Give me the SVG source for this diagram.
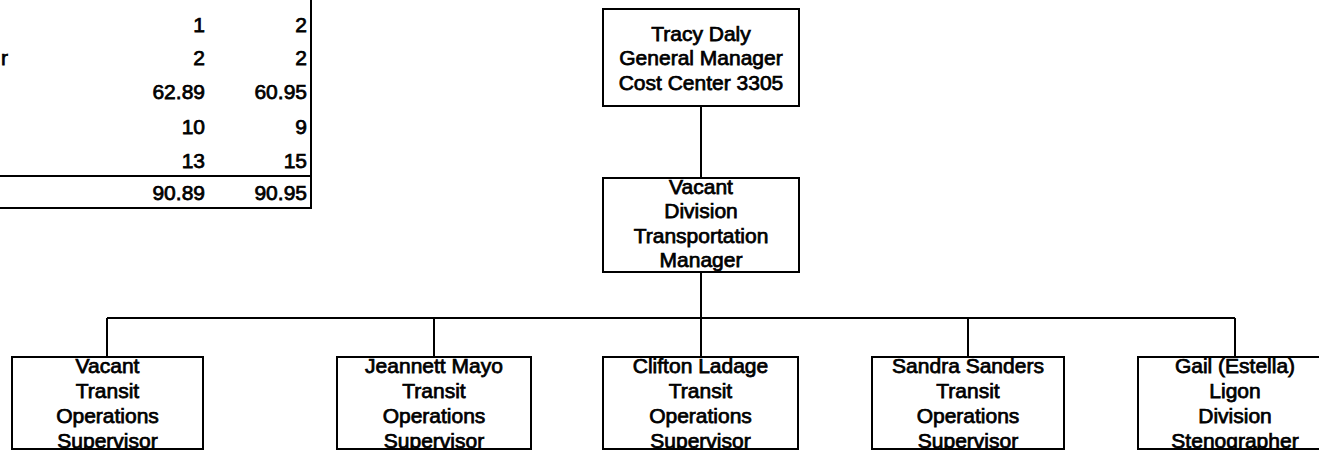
<svg xmlns="http://www.w3.org/2000/svg" width="1319" height="452" viewBox="0 0 1319 452">
<style>
text{font-family:"Liberation Sans",Arial,sans-serif;font-size:21px;fill:#000;stroke:#000;stroke-width:0.75}
.c{text-anchor:middle}
.r{text-anchor:end}
.box{fill:#fff;stroke:#000;stroke-width:2}
.ln{fill:none;stroke:#000;stroke-width:2}
</style>
<defs>
<clipPath id="cTop"><rect x="603" y="9" width="196" height="97"/></clipPath>
<clipPath id="cMgr"><rect x="603" y="178" width="196" height="94"/></clipPath>
<clipPath id="c1"><rect x="12" y="357" width="191" height="92"/></clipPath>
<clipPath id="c2"><rect x="337" y="357" width="194" height="92"/></clipPath>
<clipPath id="c3"><rect x="603" y="357" width="195" height="92"/></clipPath>
<clipPath id="c4"><rect x="872" y="357" width="192" height="92"/></clipPath>
<clipPath id="c5"><rect x="1138" y="357" width="193" height="92"/></clipPath>
</defs>
<g id="table">
<line class="ln" x1="311" y1="0" x2="311" y2="209"/>
<line class="ln" x1="0" y1="176" x2="311" y2="176"/>
<line class="ln" x1="0" y1="208" x2="311" y2="208"/>
<text class="r" x="8" y="65">r</text>
<text class="r" x="205" y="32">1</text><text class="r" x="307" y="32">2</text>
<text class="r" x="205" y="65">2</text><text class="r" x="307" y="65">2</text>
<text class="r" x="205" y="99">62.89</text><text class="r" x="307" y="99">60.95</text>
<text class="r" x="205" y="134">10</text><text class="r" x="307" y="134">9</text>
<text class="r" x="205" y="168">13</text><text class="r" x="307" y="168">15</text>
<text class="r" x="205" y="200">90.89</text><text class="r" x="307" y="200">90.95</text>
</g>
<g id="connectors">
<line class="ln" x1="701" y1="106" x2="701" y2="178"/>
<line class="ln" x1="701" y1="272" x2="701" y2="357"/>
<line class="ln" x1="107" y1="318" x2="1235" y2="318"/>
<line class="ln" x1="107" y1="318" x2="107" y2="357"/>
<line class="ln" x1="434" y1="318" x2="434" y2="357"/>
<line class="ln" x1="968" y1="318" x2="968" y2="357"/>
<line class="ln" x1="1235" y1="318" x2="1235" y2="357"/>
</g>
<g id="gm">
<rect class="box" x="603" y="9" width="196" height="97"/>
<g clip-path="url(#cTop)">
<text class="c" x="701" y="40.5">Tracy Daly</text>
<text class="c" x="701" y="65">General Manager</text>
<text class="c" x="701" y="89.5">Cost Center 3305</text>
</g>
</g>
<g id="dtm">
<rect class="box" x="603" y="178" width="196" height="94"/>
<g clip-path="url(#cMgr)">
<text class="c" x="701" y="193.5">Vacant</text>
<text class="c" x="701" y="218">Division</text>
<text class="c" x="701" y="242.5">Transportation</text>
<text class="c" x="701" y="267">Manager</text>
</g>
</g>
<g id="tos1">
<rect class="box" x="12" y="357" width="191" height="92"/>
<g clip-path="url(#c1)">
<text class="c" x="107.5" y="373">Vacant</text>
<text class="c" x="107.5" y="398">Transit</text>
<text class="c" x="107.5" y="423">Operations</text>
<text class="c" x="107.5" y="448">Supervisor</text>
</g>
</g>
<g id="tos2">
<rect class="box" x="337" y="357" width="194" height="92"/>
<g clip-path="url(#c2)">
<text class="c" x="434" y="373">Jeannett Mayo</text>
<text class="c" x="434" y="398">Transit</text>
<text class="c" x="434" y="423">Operations</text>
<text class="c" x="434" y="448">Supervisor</text>
</g>
</g>
<g id="tos3">
<rect class="box" x="603" y="357" width="195" height="92"/>
<g clip-path="url(#c3)">
<text class="c" x="700.5" y="373">Clifton Ladage</text>
<text class="c" x="700.5" y="398">Transit</text>
<text class="c" x="700.5" y="423">Operations</text>
<text class="c" x="700.5" y="448">Supervisor</text>
</g>
</g>
<g id="tos4">
<rect class="box" x="872" y="357" width="192" height="92"/>
<g clip-path="url(#c4)">
<text class="c" x="968" y="373">Sandra Sanders</text>
<text class="c" x="968" y="398">Transit</text>
<text class="c" x="968" y="423">Operations</text>
<text class="c" x="968" y="448">Supervisor</text>
</g>
</g>
<g id="steno">
<rect class="box" x="1138" y="357" width="193" height="92"/>
<g clip-path="url(#c5)">
<text class="c" x="1235" y="373">Gail (Estella)</text>
<text class="c" x="1235" y="398">Ligon</text>
<text class="c" x="1235" y="423">Division</text>
<text class="c" x="1235" y="448">Stenographer</text>
</g>
</g>
</svg>
